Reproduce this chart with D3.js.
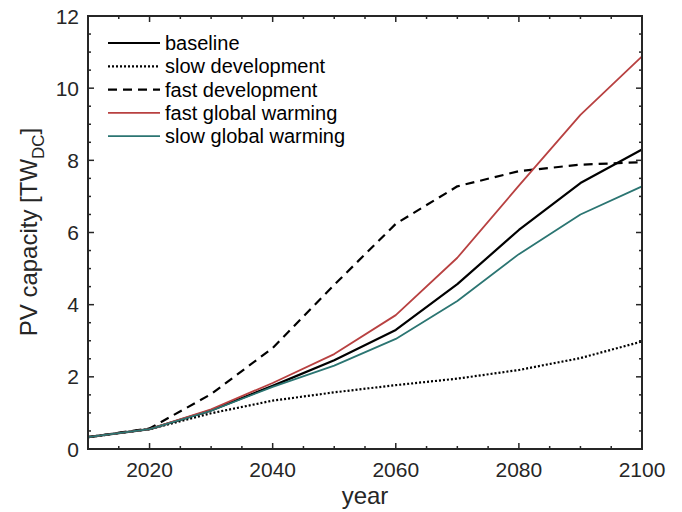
<!DOCTYPE html>
<html>
<head>
<meta charset="utf-8">
<script src="https://cdn.jsdelivr.net/npm/d3@7"></script>
<style>
  html, body { margin: 0; padding: 0; background: #fff; }
  svg { display: block; font-family: "Liberation Sans", Arial, Helvetica, sans-serif; }
</style>
</head>
<body>
<svg id="chart" width="682" height="512"></svg>
<script>
// Projected PV capacity by scenario, decadal steps
const years = [2010, 2020, 2030, 2040, 2050, 2060, 2070, 2080, 2090, 2100];
const baseline          = [0.33, 0.55, 1.07, 1.75, 2.46, 3.30, 4.57, 6.07, 7.37, 8.30];
const slowDevelopment   = [0.33, 0.55, 0.99, 1.34, 1.57, 1.77, 1.95, 2.19, 2.52, 2.98];
const fastDevelopment   = [0.33, 0.57, 1.52, 2.80, 4.55, 6.24, 7.28, 7.70, 7.88, 7.95];
const fastGlobalWarming = [0.33, 0.55, 1.10, 1.83, 2.63, 3.71, 5.30, 7.30, 9.26, 10.88];
const slowGlobalWarming = [0.33, 0.55, 1.06, 1.72, 2.31, 3.05, 4.10, 5.40, 6.50, 7.28];

const seriesNames = ["baseline", "slow development", "fast development", "fast global warming", "slow global warming"];
const seriesValues = [baseline, slowDevelopment, fastDevelopment, fastGlobalWarming, slowGlobalWarming];

const xTicks = [2020, 2040, 2060, 2080, 2100];
const yTicks = [0, 2, 4, 6, 8, 10, 12];

const styles = [
  { color: "#000000", width: 2.2, dash: null },
  { color: "#000000", width: 2.2, dash: "2,2" },
  { color: "#000000", width: 2.2, dash: "9,6" },
  { color: "#b84141", width: 1.8, dash: null },
  { color: "#2b7572", width: 1.8, dash: null }
];

const svg = d3.select("#chart");
const margin = { left: 88, right: 40, top: 16, bottom: 63 };
const W = 682, H = 512;
const x = d3.scaleLinear().domain([2010, 2100]).range([margin.left, W - margin.right]);
const y = d3.scaleLinear().domain([0, 12]).range([H - margin.bottom, margin.top]);

const axisColor = "#262626";
const tickLen = 6, minorLen = 3;

// Data lines
const line = d3.line().x((d, i) => x(years[i])).y(d => y(d));
const g = svg.append("g");
seriesValues.forEach((vals, i) => {
  g.append("path")
    .attr("d", line(vals))
    .attr("fill", "none")
    .attr("stroke", styles[i].color)
    .attr("stroke-width", styles[i].width)
    .attr("stroke-dasharray", styles[i].dash)
    .attr("stroke-linejoin", "round");
});

// Box axes with inward ticks on all sides
const x0 = x.range()[0], x1 = x.range()[1], y0 = y.range()[0], y1 = y.range()[1];
const axes = svg.append("g").attr("stroke", axisColor).attr("fill", "none");
axes.append("rect").attr("x", x0).attr("y", y1).attr("width", x1 - x0).attr("height", y0 - y1).attr("stroke-width", 2);

const xMinor = d3.range(2015, 2100, 5).filter(v => !xTicks.includes(v));
const yMinor = d3.range(0.5, 12, 0.5).filter(v => !yTicks.includes(v));

xTicks.forEach(v => {
  axes.append("line").attr("x1", x(v)).attr("x2", x(v)).attr("y1", y0).attr("y2", y0 - tickLen).attr("stroke-width", 1.5);
  axes.append("line").attr("x1", x(v)).attr("x2", x(v)).attr("y1", y1).attr("y2", y1 + tickLen).attr("stroke-width", 1.5);
});
xMinor.forEach(v => {
  axes.append("line").attr("x1", x(v)).attr("x2", x(v)).attr("y1", y0).attr("y2", y0 - minorLen).attr("stroke-width", 1.5);
  axes.append("line").attr("x1", x(v)).attr("x2", x(v)).attr("y1", y1).attr("y2", y1 + minorLen).attr("stroke-width", 1.5);
});
yTicks.forEach(v => {
  axes.append("line").attr("y1", y(v)).attr("y2", y(v)).attr("x1", x0).attr("x2", x0 + tickLen).attr("stroke-width", 1.5);
  axes.append("line").attr("y1", y(v)).attr("y2", y(v)).attr("x1", x1).attr("x2", x1 - tickLen).attr("stroke-width", 1.5);
});
yMinor.forEach(v => {
  axes.append("line").attr("y1", y(v)).attr("y2", y(v)).attr("x1", x0).attr("x2", x0 + minorLen).attr("stroke-width", 1.5);
  axes.append("line").attr("y1", y(v)).attr("y2", y(v)).attr("x1", x1).attr("x2", x1 - minorLen).attr("stroke-width", 1.5);
});

// Tick labels
svg.append("g").selectAll("text").data(xTicks).join("text")
  .attr("x", d => x(d)).attr("y", y0 + 28)
  .attr("text-anchor", "middle").attr("font-size", 21).attr("fill", axisColor)
  .text(d => d);
svg.append("g").selectAll("text").data(yTicks).join("text")
  .attr("x", x0 - 9).attr("y", d => y(d) + 7.5)
  .attr("text-anchor", "end").attr("font-size", 21).attr("fill", axisColor)
  .text(d => d);

// Axis titles
svg.append("text").attr("x", (x0 + x1) / 2).attr("y", 504)
  .attr("text-anchor", "middle").attr("font-size", 24).attr("fill", axisColor).text("year");
const yl = svg.append("text")
  .attr("transform", `translate(37, 232) rotate(-90)`)
  .attr("text-anchor", "middle").attr("font-size", 24).attr("fill", axisColor);
yl.append("tspan").text("PV capacity [TW");
yl.append("tspan").attr("font-size", 17).attr("dy", 7).text("DC");
yl.append("tspan").attr("dy", -7).text("]");

// Legend
const legend = svg.append("g");
seriesNames.forEach((name, i) => {
  const ly = 43 + i * 23.3;
  legend.append("line").attr("x1", 108).attr("x2", 160).attr("y1", ly).attr("y2", ly)
    .attr("stroke", styles[i].color).attr("stroke-width", styles[i].width)
    .attr("stroke-dasharray", styles[i].dash);
  legend.append("text").attr("x", 165).attr("y", ly + 7)
    .attr("font-size", 20).attr("fill", "#000").text(name);
});
</script>
</body>
</html>
